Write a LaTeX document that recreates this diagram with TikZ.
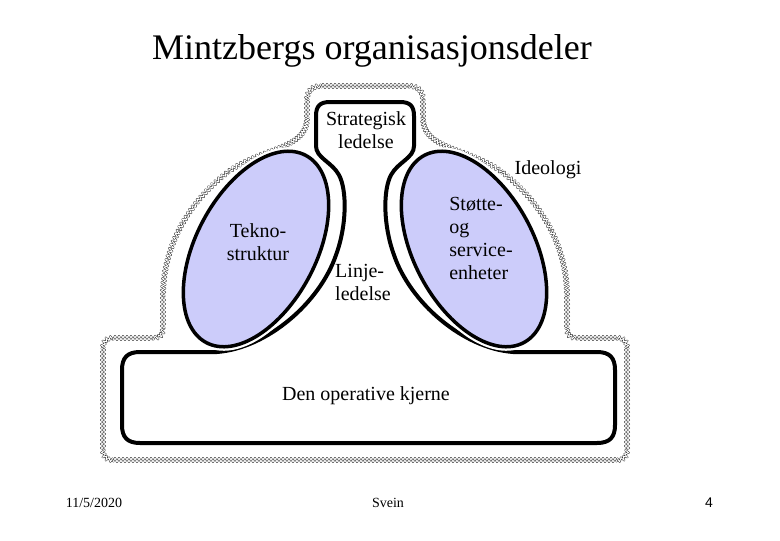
\documentclass[tikz,border=0pt]{standalone}
\usepackage{fontspec}
\setmainfont{Liberation Serif}
\newfontfamily\arialfont{Liberation Sans}
\definecolor{lav}{RGB}{204,204,250}
% zigzag along a cubic curve: x0 y0 x1 y1 x2 y2 x3 y3 N
\newcommand{\zzc}[9]{\draw[zz] plot[variable=\k, samples at={0,...,#9}]
  ({bz(\k/#9,#1,#3,#5,#7)-2*(1-2*mod(\k,2))*dbz(\k/#9,#2,#4,#6,#8)/veclen(dbz(\k/#9,#1,#3,#5,#7),dbz(\k/#9,#2,#4,#6,#8))},
   {bz(\k/#9,#2,#4,#6,#8)+2*(1-2*mod(\k,2))*dbz(\k/#9,#1,#3,#5,#7)/veclen(dbz(\k/#9,#1,#3,#5,#7),dbz(\k/#9,#2,#4,#6,#8))});}
% zigzag along horizontal / vertical lines
\newcommand{\zzh}[4]{\draw[zz] plot[variable=\k, samples at={0,...,#4}] ({#1+(#2-#1)/#4*\k}, {#3+2*(1-2*mod(\k,2))});}
\newcommand{\zzv}[4]{\draw[zz] plot[variable=\k, samples at={0,...,#4}] ({#1+2*(1-2*mod(\k,2))}, {#2+(#3-#2)/#4*\k});}
\begin{document}
\begin{tikzpicture}[x=0.5pt,y=-0.5pt,
  declare function={
    bz(\t,\a,\b,\c,\d)=(1-\t)^3*\a+3*(1-\t)^2*\t*\b+3*(1-\t)*\t^2*\c+\t^3*\d;
    dbz(\t,\a,\b,\c,\d)=0.03*(1-\t)^2*(\b-\a)+0.06*(1-\t)*\t*(\c-\b)+0.03*\t^2*(\d-\c);
  },
  outl/.style={draw=black, line width=2pt, line join=round},
  blob/.style={fill=lav, draw=black, line width=1.75pt},
  halo/.style={draw=white, line width=4pt},
  lbl/.style={font=\fontsize{10}{11.5}\selectfont, inner sep=0pt},
  foot/.style={font=\fontsize{7}{8}\selectfont, inner sep=0pt},
  zz/.style={draw=black!80, line width=0.27pt, double=white, double distance=0.45pt, line join=round}]
\useasboundingbox (0,0) rectangle (780,540);
\fill[white] (0,0) rectangle (780,540);

% ideology border (zigzag band)
\zzv{103}{450}{348}{51}
\zzc{103}{348}{103}{341}{106}{338}{113}{338}{8}
\zzh{113}{153}{338}{20}
\zzc{153}{338}{160}{338}{163}{335}{163}{328}{8}
\zzv{163}{328}{296}{16}
\zzc{163}{296}{163}{250}{185}{205}{228}{172}{72}
\zzc{228}{172}{262}{147}{307}{150}{307}{118}{55}
\zzv{307}{118}{100}{9}
\zzc{307}{100}{307}{91}{312}{86}{321}{86}{11}
\zzh{321}{409}{86}{44}
\zzc{409}{86}{418}{86}{423}{91}{423}{100}{11}
\zzv{423}{100}{118}{9}
\zzc{423}{118}{423}{150}{468}{147}{502}{172}{55}
\zzc{502}{172}{545}{205}{567}{250}{567}{296}{72}
\zzv{567}{296}{328}{16}
\zzc{567}{328}{567}{335}{570}{338}{577}{338}{8}
\zzh{577}{617}{338}{20}
\zzc{617}{338}{624}{338}{627}{341}{627}{348}{8}
\zzv{627}{348}{450}{51}
\zzc{627}{450}{627}{457}{624}{460}{617}{460}{8}
\zzh{617}{113}{460}{252}
\zzc{113}{460}{106}{460}{103}{457}{103}{450}{8}

% main outline: apex, middle line, operating core
\draw[outl] (330,102) -- (400,102) .. controls (410,102) and (414,106) .. (414,116)
  -- (414,146) .. controls (414,158) and (398,162) .. (391,175)
  .. controls (383,190) and (383,225) .. (394,255)
  .. controls (410,302) and (462,348) .. (513,352)
  -- (597,352) .. controls (610,352) and (615,358) .. (615,370)
  -- (615,425) .. controls (615,437) and (610,443) .. (597,443)
  -- (140,443) .. controls (127,443) and (122,437) .. (122,425)
  -- (122,370) .. controls (122,358) and (127,352) .. (140,352)
  -- (217,352) .. controls (268,348) and (320,302) .. (336,255)
  .. controls (347,225) and (347,190) .. (339,175)
  .. controls (332,162) and (316,158) .. (316,146)
  -- (316,116) .. controls (316,106) and (320,102) .. (330,102) -- cycle;

% techno-structure and support staff
\path[halo, shift={(256,249)}, rotate=62] (0,0) ellipse [x radius=53pt, y radius=30pt];
\path[blob, shift={(256,249)}, rotate=62] (0,0) ellipse [x radius=53pt, y radius=30pt];
\path[halo, shift={(474,249)}, rotate=-62] (0,0) ellipse [x radius=53pt, y radius=30pt];
\path[blob, shift={(474,249)}, rotate=-62] (0,0) ellipse [x radius=53pt, y radius=30pt];

% texts
\node[anchor=base, font=\fontsize{18}{20}\selectfont, inner sep=0pt] (title) at (372,60) {Mintzbergs organisasjonsdeler};
\node[lbl, align=center] (apex) at (366,130) {Strategisk\\ledelse};
\node[lbl] (ideo) at (548,170) {Ideologi};
\node[lbl, align=center] (tekno) at (258,242) {Tekno-\\struktur};
\node[lbl, align=left] (linje) at (363,282) {Linje-\\ledelse};
\node[lbl, align=left] (stotte) at (481,238) {Støtte-\\og\\service-\\enheter};
\node[lbl] (core) at (366,396) {Den operative kjerne};

\node[foot] (date) at (94,503) {11/5/2020};
\node[foot] (author) at (388,503) {Svein};
\node[foot, font=\arialfont\fontsize{7}{8}\selectfont] (page) at (709,503) {4};
\end{tikzpicture}
\end{document}
